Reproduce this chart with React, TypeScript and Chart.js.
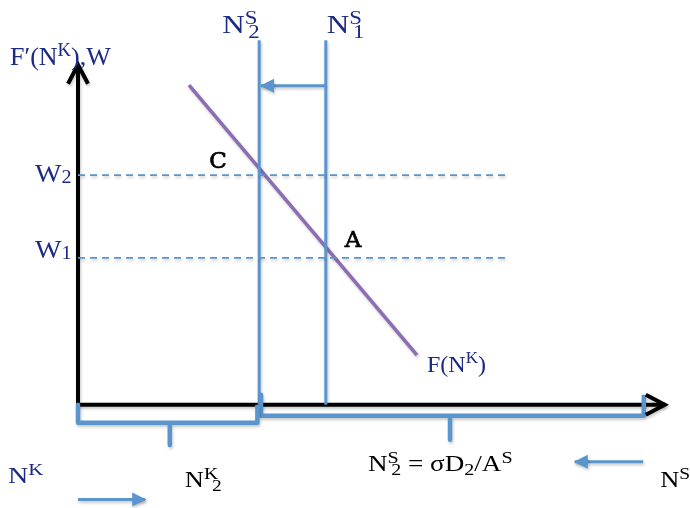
import { useEffect, useRef } from "react";
import { Chart, registerables } from "chart.js";
Chart.register(...registerables);

// ---- data (diagram units) ----
// horizontal: labour quantity N, vertical: marginal product / wage
const xRange = [-1.3, 10.2];
const yRange = [-1.72, 6.75];
const xAxisEnd = 9.78;
const yAxisEnd = 5.67;
const NS2 = 3.02; // N^S_2
const NS1 = 4.13; // N^S_1
const supplyTop = 6.08;
const shiftY = 5.32;
const W2 = 3.83;
const W1 = 2.45;
const wageLineEnd = 7.2;
// F(N^K) demand line
const demandX = [1.85, 5.65];
const demandY = [5.33, 0.83];
// braces below axis
const braceKX = [0, 0, 2.99, 2.99, null, 1.53, 1.53];
const braceKY = [0, -0.3, -0.3, 0, null, -0.3, -0.67];
const braceSX = [3.05, 3.05, 9.43, 9.43, null, 6.2, 6.2];
const braceSY = [0.17, -0.18, -0.18, 0.17, null, -0.18, -0.58];
// direction arrows
const arrowSX = [9.42, 8.28];
const arrowSY = [-0.95, -0.95];
const arrowKX = [0, 1.12];
const arrowKY = [-1.58, -1.58];

const BLUE = "#5a96cd";
const PURPLE = "#8c6db4";
const NAVY = "#1b2a84";
const SERIF = "'Liberation Serif', 'Times New Roman', serif";

const pts = (xs: (number | null)[], ys: (number | null)[]) =>
  xs.map((x, i) => (x === null || ys[i] === null ? { x: NaN, y: NaN } : { x, y: ys[i] as number }));

type Part = { t: string; sup?: string; sub?: string };
type RichOpts = { stretch?: number; subDrop?: number; subShift?: number };

function drawRich(
  ctx: CanvasRenderingContext2D,
  parts: Part[],
  px: number,
  py: number,
  size: number,
  color: string,
  o: RichOpts = {}
) {
  const stretch = o.stretch ?? 1;
  const subDrop = o.subDrop ?? 0.17;
  const subShift = o.subShift ?? 2;
  ctx.save();
  ctx.translate(px, py);
  ctx.scale(stretch, 1);
  let cx = 0;
  ctx.fillStyle = color;
  ctx.textAlign = "left";
  ctx.textBaseline = "alphabetic";
  for (const p of parts) {
    if (p.t) {
      ctx.font = `${size}px ${SERIF}`;
      ctx.fillText(p.t, cx, 0);
      cx += ctx.measureText(p.t).width;
    }
    if (p.sup || p.sub) {
      const s = Math.round(size * 0.72);
      ctx.font = `${s}px ${SERIF}`;
      let w = 0;
      if (p.sup) {
        ctx.fillText(p.sup, cx, -size * 0.36);
        w = Math.max(w, ctx.measureText(p.sup).width);
      }
      if (p.sub) {
        const sh = p.sup ? subShift : 0;
        ctx.fillText(p.sub, cx + sh, size * subDrop);
        w = Math.max(w, ctx.measureText(p.sub).width + sh);
      }
      cx += w;
    }
  }
  ctx.restore();
}

const overlay = {
  id: "overlay",
  beforeDatasetsDraw(chart: any) {
    const ctx = chart.ctx as CanvasRenderingContext2D;
    ctx.save();
    ctx.shadowColor = "rgba(0,0,0,0.22)";
    ctx.shadowBlur = 3;
    ctx.shadowOffsetX = 1;
    ctx.shadowOffsetY = 2;
  },
  afterDatasetsDraw(chart: any) {
    const ctx = chart.ctx as CanvasRenderingContext2D;
    const xs = chart.scales.x;
    const ys = chart.scales.y;
    // arrowheads
    chart.data.datasets.forEach((ds: any) => {
      if (!ds.arrow) return;
      const d = ds.data;
      const a = d[d.length - 2];
      const b = d[d.length - 1];
      const ax = xs.getPixelForValue(a.x), ay = ys.getPixelForValue(a.y);
      const bx = xs.getPixelForValue(b.x), by = ys.getPixelForValue(b.y);
      const ang = Math.atan2(by - ay, bx - ax);
      ctx.save();
      ctx.translate(bx, by);
      ctx.rotate(ang);
      if (ds.arrow === "open") {
        ctx.strokeStyle = ds.borderColor;
        ctx.lineWidth = ds.borderWidth;
        ctx.lineJoin = "miter";
        ctx.beginPath();
        ctx.moveTo(-19, -10);
        ctx.lineTo(0, 0);
        ctx.lineTo(-19, 10);
        ctx.stroke();
      } else {
        ctx.fillStyle = ds.borderColor;
        ctx.beginPath();
        ctx.moveTo(1, 0);
        ctx.lineTo(-13, -7);
        ctx.lineTo(-13, 7);
        ctx.closePath();
        ctx.fill();
      }
      ctx.restore();
    });
    ctx.restore();

    const X = (v: number) => xs.getPixelForValue(v);
    const Y = (v: number) => ys.getPixelForValue(v);
    const S = 24;
    // vertical axis label
    drawRich(ctx, [{ t: "F\u2032(N", sup: "K" }, { t: "),W" }], X(0) - 68, Y(yAxisEnd), 25, NAVY, { stretch: 1.04 });
    // supply labels
    drawRich(ctx, [{ t: "N", sup: "S", sub: "2" }], X(NS2) - 37, Y(supplyTop) - 7, 26, NAVY, { stretch: 1.2, subShift: 3 });
    drawRich(ctx, [{ t: "N", sup: "S", sub: "1" }], X(NS1) + 1, Y(supplyTop) - 7, 26, NAVY, { stretch: 1.2, subShift: 3 });
    // wage labels
    drawRich(ctx, [{ t: "W", sub: "2" }], X(0) - 43, Y(W2) + 7, 25, NAVY, { stretch: 1.12, subDrop: 0.05 });
    drawRich(ctx, [{ t: "W", sub: "1" }], X(0) - 43, Y(W1), 25, NAVY, { stretch: 1.12, subDrop: 0.05 });
    // points
    ctx.fillStyle = "#000";
    ctx.strokeStyle = "#000";
    ctx.lineWidth = 0.7;
    ctx.textAlign = "left";
    ctx.textBaseline = "alphabetic";
    ctx.font = `23px 'DejaVu Serif', serif`;
    ctx.fillText("C", X(NS2) - 50, Y(W2) - 7);
    ctx.strokeText("C", X(NS2) - 50, Y(W2) - 7);
    ctx.fillText("A", X(NS1) + 19, Y(W1) - 11);
    ctx.strokeText("A", X(NS1) + 19, Y(W1) - 11);
    // demand label
    drawRich(ctx, [{ t: "F(N", sup: "K" }, { t: ")" }], X(demandX[1]) + 10, Y(demandY[1]) + 17, S, NAVY);
    // bottom labels
    drawRich(ctx, [{ t: "N", sup: "K" }], 8, Y(arrowSY[0]) + 21, 23, NAVY, { stretch: 1.22 });
    drawRich(ctx, [{ t: "N", sup: "K", sub: "2" }], X(braceKX[5]) + 15, Y(arrowSY[0]) + 25, 23, "#000", {
      stretch: 1.15,
      subShift: 7,
    });
    drawRich(
      ctx,
      [{ t: "N", sup: "S", sub: "2" }, { t: " = \u03c3D", sub: "2" }, { t: "/A", sup: "S" }],
      X(braceSX[5]) - 82,
      Y(arrowSY[0]) + 9,
      23,
      "#000",
      { stretch: 1.18, subShift: 3 }
    );
    drawRich(ctx, [{ t: "N", sup: "S" }], X(arrowSX[0]) + 17, Y(arrowSY[0]) + 25, 23, "#000", { stretch: 1.15 });
  },
};

export default function App() {
  const ref = useRef<HTMLCanvasElement>(null);
  useEffect(() => {
    if (!ref.current) return;
    const line = (data: any, color: string, width: number, extra: any = {}) => ({
      data,
      borderColor: color,
      backgroundColor: color,
      borderWidth: width,
      showLine: true,
      pointRadius: 0,
      pointHoverRadius: 0,
      fill: false,
      spanGaps: false,
      borderCapStyle: "butt",
      borderJoinStyle: "round",
      ...extra,
    });
    const chart = new Chart(ref.current, {
      type: "scatter",
      data: {
        datasets: [
          line(pts([0, wageLineEnd], [W2, W2]), BLUE, 1.7, { borderDash: [7, 5] }),
          line(pts([0, wageLineEnd], [W1, W1]), BLUE, 1.7, { borderDash: [7, 5] }),
          line(pts(braceKX, braceKY), BLUE, 4.5),
          line(pts(braceSX, braceSY), BLUE, 4.5),
          line(pts([NS2, NS2], [0, supplyTop]), BLUE, 3),
          line(pts([NS1, NS1], [0, supplyTop]), BLUE, 3),
          line(pts([NS1, NS2 + 0.03], [shiftY, shiftY]), BLUE, 3, { arrow: "filled" }),
          line(pts(demandX, demandY), PURPLE, 3.5),
          line(pts([0, xAxisEnd], [0, 0]), "#000", 4, { arrow: "open" }),
          line(pts([0, 0], [0, yAxisEnd]), "#000", 4, { arrow: "open" }),
          line(pts(arrowSX, arrowSY), BLUE, 3, { arrow: "filled" }),
          line(pts(arrowKX, arrowKY), BLUE, 3, { arrow: "filled" }),
        ] as any,
      },
      options: {
        animation: false,
        responsive: false,
        maintainAspectRatio: false,
        events: [],
        layout: { padding: 0, autoPadding: false } as any,
        plugins: { legend: { display: false }, tooltip: { enabled: false }, title: { display: false } },
        scales: {
          x: { type: "linear", min: xRange[0], max: xRange[1], display: false },
          y: { type: "linear", min: yRange[0], max: yRange[1], display: false },
        },
      },
      plugins: [overlay],
    });
    return () => chart.destroy();
  }, []);
  return (
    <div style={{ position: "absolute", left: 0, top: 0, width: 690, height: 508, background: "#fff" }}>
      <canvas ref={ref} width={690} height={508} style={{ display: "block" }} />
    </div>
  );
}
